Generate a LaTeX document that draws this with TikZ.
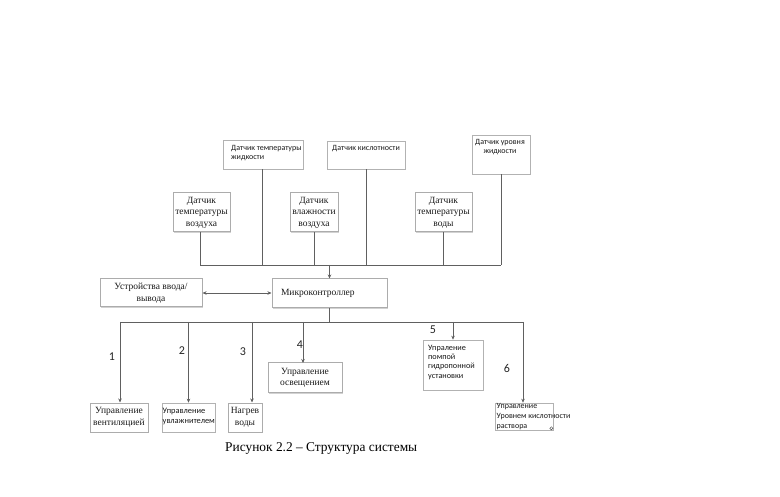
\documentclass[tikz,border=0pt]{standalone}
\usepackage{fontspec}
\setmainfont{Liberation Serif}
\newfontfamily\calfont{Carlito}
\usetikzlibrary{arrows.meta,calc,shadows}
\begin{document}
\begin{tikzpicture}[x=1pt,y=-1pt,
 sbox/.style={draw=gray!65, line width=1pt, fill=white, font=\fontsize{9.5}{11.5}\selectfont, align=center, inner sep=1pt, text=black!90,
   drop shadow={shadow xshift=0.8pt, shadow yshift=-0.8pt, fill=gray!35, opacity=1}},
 cbox/.style={draw=gray!60, line width=0.7pt, fill=white, inner sep=0pt},
 ctext/.style={font=\calfont\fontsize{8}{9.5}\selectfont, align=left, inner sep=0pt, text=black!90},
 wire/.style={draw=gray!75!black, line width=0.6pt},
 arr/.style={wire, -{Stealth[length=4pt,width=3.5pt]}},
 num/.style={font=\calfont\fontsize{12}{13}\selectfont, text=black!85, inner sep=0pt}]
\useasboundingbox (0,0) rectangle (780,497);
\fill[white] (0,0) rectangle (780,497);

% top sensors (sans boxes)
\node[cbox, minimum width=80pt, minimum height=29pt] (tz) at (263,154.5) {};
\node[ctext, anchor=north west] (tzt) at (231,145) {Датчик температуры\\жидкости};
\node[cbox, minimum width=78pt, minimum height=28pt] (kis) at (366,155) {};
\node[ctext, anchor=north west] (kist) at (332,145) {Датчик кислотности};
\node[cbox, minimum width=58pt, minimum height=39pt] (ur) at (501,154.5) {};
\node[ctext, align=center, anchor=north] (urt) at (500,139) {Датчик уровня\\жидкости};

% middle sensors (serif boxes)
\node[sbox, minimum width=57pt, minimum height=39pt] (tv) at (201.5,212.5) {Датчик\\температуры\\воздуха};
\node[sbox, minimum width=48pt, minimum height=39pt] (vv) at (314,212.5) {Датчик\\влажности\\воздуха};
\node[sbox, minimum width=57pt, minimum height=39pt] (tvd) at (443.5,212.5) {Датчик\\температуры\\воды};

% upper bus
\coordinate (busL) at (200,265);
\coordinate (busR) at (501,265);
\draw[wire] (busL) -- (busR);
\draw[wire] (tv.south -| busL) -- (busL);
\draw[wire] (tz.south -| 262,0) -- (262,265);
\draw[wire] (vv.south) -- (vv.south |- busL);
\draw[wire] (kis.south) -- (kis.south |- busL);
\draw[wire] (tvd.south) -- (tvd.south |- busL);
\draw[wire] (ur.south) -- (busR);

% microcontroller and io
\node[sbox, minimum width=115pt, minimum height=29pt, text width=97pt, align=left] (mc) at (329.5,293.5) {Микроконтроллер};
\node[sbox, minimum width=102pt, minimum height=28pt] (io) at (151,293) {Устройства ввода/\\вывода};
\draw[arr] (mc.north |- busL) -- (mc.north);
\draw[wire, {Stealth[length=4pt,width=3.5pt]}-{Stealth[length=4pt,width=3.5pt]}] (io.east) -- (io.east -| mc.west);

% outputs
\node[sbox, minimum width=58pt, minimum height=29pt] (o1) at (119,417.5) {Управление\\вентиляцией};
\node[cbox, minimum width=53pt, minimum height=29pt] (o2) at (188.5,417.5) {};
\node[ctext, font=\calfont\fontsize{8.4}{9.5}\selectfont, anchor=west] (o2t) at (162.5,416.5) {Управление\\увлажнителем};
\node[sbox, minimum width=34pt, minimum height=29pt] (o3) at (245,417.5) {Нагрев\\воды};
\node[sbox, minimum width=74pt, minimum height=30pt] (o4) at (305,378) {Управление\\освещением};
\node[cbox, minimum width=60pt, minimum height=50pt] (o5) at (453,365) {};
\node[ctext, anchor=north west, font=\calfont\fontsize{8.2}{9.2}\selectfont] (o5t) at (428,345) {Упраление\\помпой\\гидропонной\\установки};
\node[cbox, minimum width=58pt, minimum height=27pt] (o6) at (524,416.5) {};
\node[ctext, anchor=north west, font=\calfont\fontsize{8}{10}\selectfont] (o6t) at (496.5,403) {Управление\\Уровнем кислотности\\раствора};
\draw[black!70, line width=0.5pt] (o6.south east) ++(-2,-2) circle (1.6pt);

% lower bus
\coordinate (lbL) at (120,322);
\coordinate (lbR) at (523,322);
\coordinate (b3) at (252,322);
\draw[wire] (mc.south) -- (mc.south |- lbL);
\draw[wire] (lbL) -- (lbR);
\draw[arr] (lbL) -- (lbL |- o1.north);
\draw[arr] (o2.north |- lbL) -- (o2.north);
\draw[arr] (b3) -- (b3 |- o3.north);
\draw[arr] (303,322) -- (303,363);
\draw[arr] (o5.north |- lbL) -- (o5.north);
\draw[arr] (lbR) -- (lbR |- o6.north);

% numbers
\node[num] (n1) at (112,357) {1};
\node[num] (n2) at (182,351) {2};
\node[num] (n3) at (243,352) {3};
\node[num] (n4) at (300,345) {4};
\node[num] (n5) at (433,330) {5};
\node[num] (n6) at (507,368) {6};

% caption
\node[font=\fontsize{13.4}{15}\selectfont, anchor=west, inner sep=0pt] (cap) at (225,449) {Рисунок 2.2 – Структура системы};
\end{tikzpicture}
\end{document}
